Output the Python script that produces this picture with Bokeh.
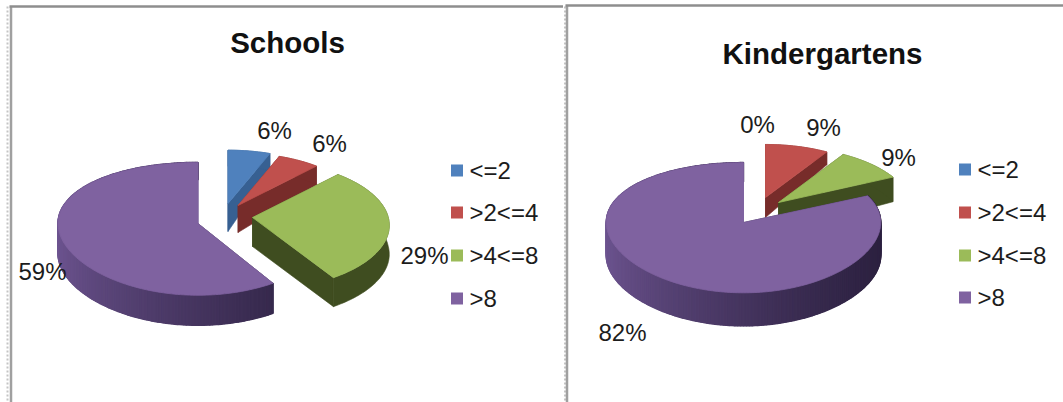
import numpy as np
from bokeh.embed import file_html
from bokeh.layouts import row
from bokeh.models import ColumnDataSource, Range1d
from bokeh.plotting import figure
from bokeh.resources import INLINE
from bokeh.core.properties import value

categories = ["<=2", ">2<=4", ">4<=8", ">8"]
schools_values = [6, 6, 29, 59]
kindergartens_values = [0, 9, 9, 82]

top_colors = ["#4f81bd", "#c0504d", "#9bbb59", "#7f62a0"]
wall_colors_left = ["#376092", "#772c2a", "#3f4d20", "#6d5490"]
wall_colors_right = ["#376092", "#772c2a", "#3f4d20", "#2c2140"]

FONT = value("Liberation Sans")
TEXT = "#1c1c1c"
RADIUS_X, RADIUS_Y = 140, 66
# Perspective strength of the pie plane per slice, horizontally and vertically
TILT_X = [0.12, 0.12, 0.12, 0.0]
TILT_Y = [0.12, 0.12, 0.12, 0.08]
DEPTH_FALLOFF = 0.42  # walls get shorter towards the back

schools_layout = dict(
    title="Schools", title_xy=(287, 42), x0=0, width=563,
    apex=[(227.5, 203), (237.5, 205), (252, 217), (197.5, 223)],
    scale=[0.905, 0.89, 0.97, 1.0],
    depth=[28, 27, 29, 30],
    labels=[(274, 130), (329, 143), (424, 255), (42, 271)],
    swatch_x=456.5, legend_x=469, legend_y=[170, 212, 255, 298],
)
kindergartens_layout = dict(
    title="Kindergartens", title_xy=(822, 53), x0=563, width=500,
    apex=[(764, 197), (765, 197), (778, 202), (743, 222)],
    scale=[0.9, 0.9, 0.95, 0.98],
    depth=[20, 20, 30, 33],
    labels=[(757, 124), (823, 127), (898, 157), (622, 332)],
    swatch_x=964.5, legend_x=977, legend_y=[169, 212, 255, 297],
)


def project(theta, apex, scale, i):
    """Map an angle on the rim of the tilted pie plane to page pixels."""
    u, v = np.sin(theta), np.cos(theta)
    sx = scale / (1 + TILT_X[i] * v)
    sy = scale / (1 + TILT_Y[i] * v)
    return apex[0] + RADIUS_X * u * sx, apex[1] - RADIUS_Y * v * sy, v


def wall_height(depth, v):
    return depth * (1 - DEPTH_FALLOFF * np.maximum(v, 0))


def hex_rgb(c):
    return np.array([int(c[i:i + 2], 16) for i in (1, 3, 5)], dtype=float)


def mix(a, b, t):
    r = hex_rgb(a) * (1 - t) + hex_rgb(b) * t
    return "#%02x%02x%02x" % tuple(int(round(x)) for x in r)


def draw_pie(p, values, cfg):
    total = sum(values)
    start = 0.0
    for i, val in enumerate(values):
        sweep = 2 * np.pi * val / total
        if val == 0:
            start += sweep
            continue
        apex, sc, d = cfg["apex"][i], cfg["scale"][i], cfg["depth"][i]
        theta = np.linspace(start, start + sweep, max(6, int(val * 3)) + 1)
        xs, ys, vs = project(theta, apex, sc, i)
        hs = wall_height(d, vs)

        # Straight cut faces
        h0 = wall_height(d, 0.0)
        for k, colour in ((0, wall_colors_right[i]), (-1, wall_colors_left[i])):
            p.patch([apex[0], xs[k], xs[k], apex[0]],
                    [apex[1], ys[k], ys[k] + hs[k], apex[1] + h0],
                    fill_color=colour, line_color=colour, line_width=0.6)

        # Outer rim as one solid band ...
        mid = mix(wall_colors_left[i], wall_colors_right[i], 0.6)
        p.patch(np.r_[xs, xs[::-1]], np.r_[ys, (ys + hs)[::-1]],
                fill_color=mid, line_color=mid, line_width=0.6)
        # ... with strips on top where the shade changes from left to right
        if wall_colors_left[i] != wall_colors_right[i]:
            wall_x, wall_y, wall_c = [], [], []
            for a in range(len(theta) - 1):
                t = ((np.sin(theta[a]) + 1) / 2) ** 0.7
                wall_x.append([xs[a], xs[a + 1], xs[a + 1], xs[a]])
                wall_y.append([ys[a], ys[a + 1], ys[a + 1] + hs[a + 1], ys[a] + hs[a]])
                wall_c.append(mix(wall_colors_left[i], wall_colors_right[i], t))
            p.patches(xs="x", ys="y", fill_color="c", line_color="c", line_width=1.5,
                      source=ColumnDataSource(dict(x=wall_x, y=wall_y, c=wall_c)))

        # Top face of the slice
        p.patch(np.r_[apex[0], xs], np.r_[apex[1], ys],
                fill_color=top_colors[i], line_color=top_colors[i], line_width=0.8)
        start += sweep

    p.text(x=[c[0] for c in cfg["labels"]], y=[c[1] for c in cfg["labels"]],
           text=[f"{v}%" for v in values], text_font=FONT, text_font_size="24px",
           text_color=TEXT, text_align="center", text_baseline="middle")
    p.text(x=[cfg["title_xy"][0]], y=[cfg["title_xy"][1]], text=[cfg["title"]],
           text_font=FONT, text_font_size="29.5px", text_font_style="bold",
           text_color="#111111", text_align="center", text_baseline="middle")

    # Legend
    n = len(categories)
    p.rect(x=[cfg["swatch_x"]] * n, y=cfg["legend_y"], width=12, height=12,
           fill_color=top_colors, line_color=None)
    p.text(x=[cfg["legend_x"]] * n, y=cfg["legend_y"], text=categories,
           text_font=FONT, text_font_size="24px", text_color=TEXT,
           text_align="left", text_baseline="middle")


def make_panel(values, cfg):
    p = figure(width=cfg["width"], height=402, output_backend="svg",
               toolbar_location=None, min_border=0,
               x_range=Range1d(cfg["x0"], cfg["x0"] + cfg["width"]),
               y_range=Range1d(402, 0), outline_line_color=None,
               background_fill_color="white", border_fill_color="white")
    p.axis.visible = False
    p.grid.visible = False
    draw_pie(p, values, cfg)
    return p


left = make_panel(schools_values, schools_layout)
right = make_panel(kindergartens_values, kindergartens_layout)

# Panel frames
left.line([7, 7], [6, 402], line_color="#c4c4c4", line_width=2, line_dash="2 2")
left.line([10.5, 10.5], [6, 402], line_color="#a0a0a0", line_width=2.5)
left.line([9, 563], [6, 6], line_color="#8e8e8e", line_width=2.5)
right.line([564.5, 564.5], [6, 402], line_color="#c4c4c4", line_width=2, line_dash="2 2")
right.line([566.5, 566.5], [5, 402], line_color="#a0a0a0", line_width=2.5)
right.line([565, 1063], [5, 5], line_color="#8e8e8e", line_width=2.5)

page = row(left, right, spacing=0)
open("out.html", "w").write(file_html(page, INLINE))
